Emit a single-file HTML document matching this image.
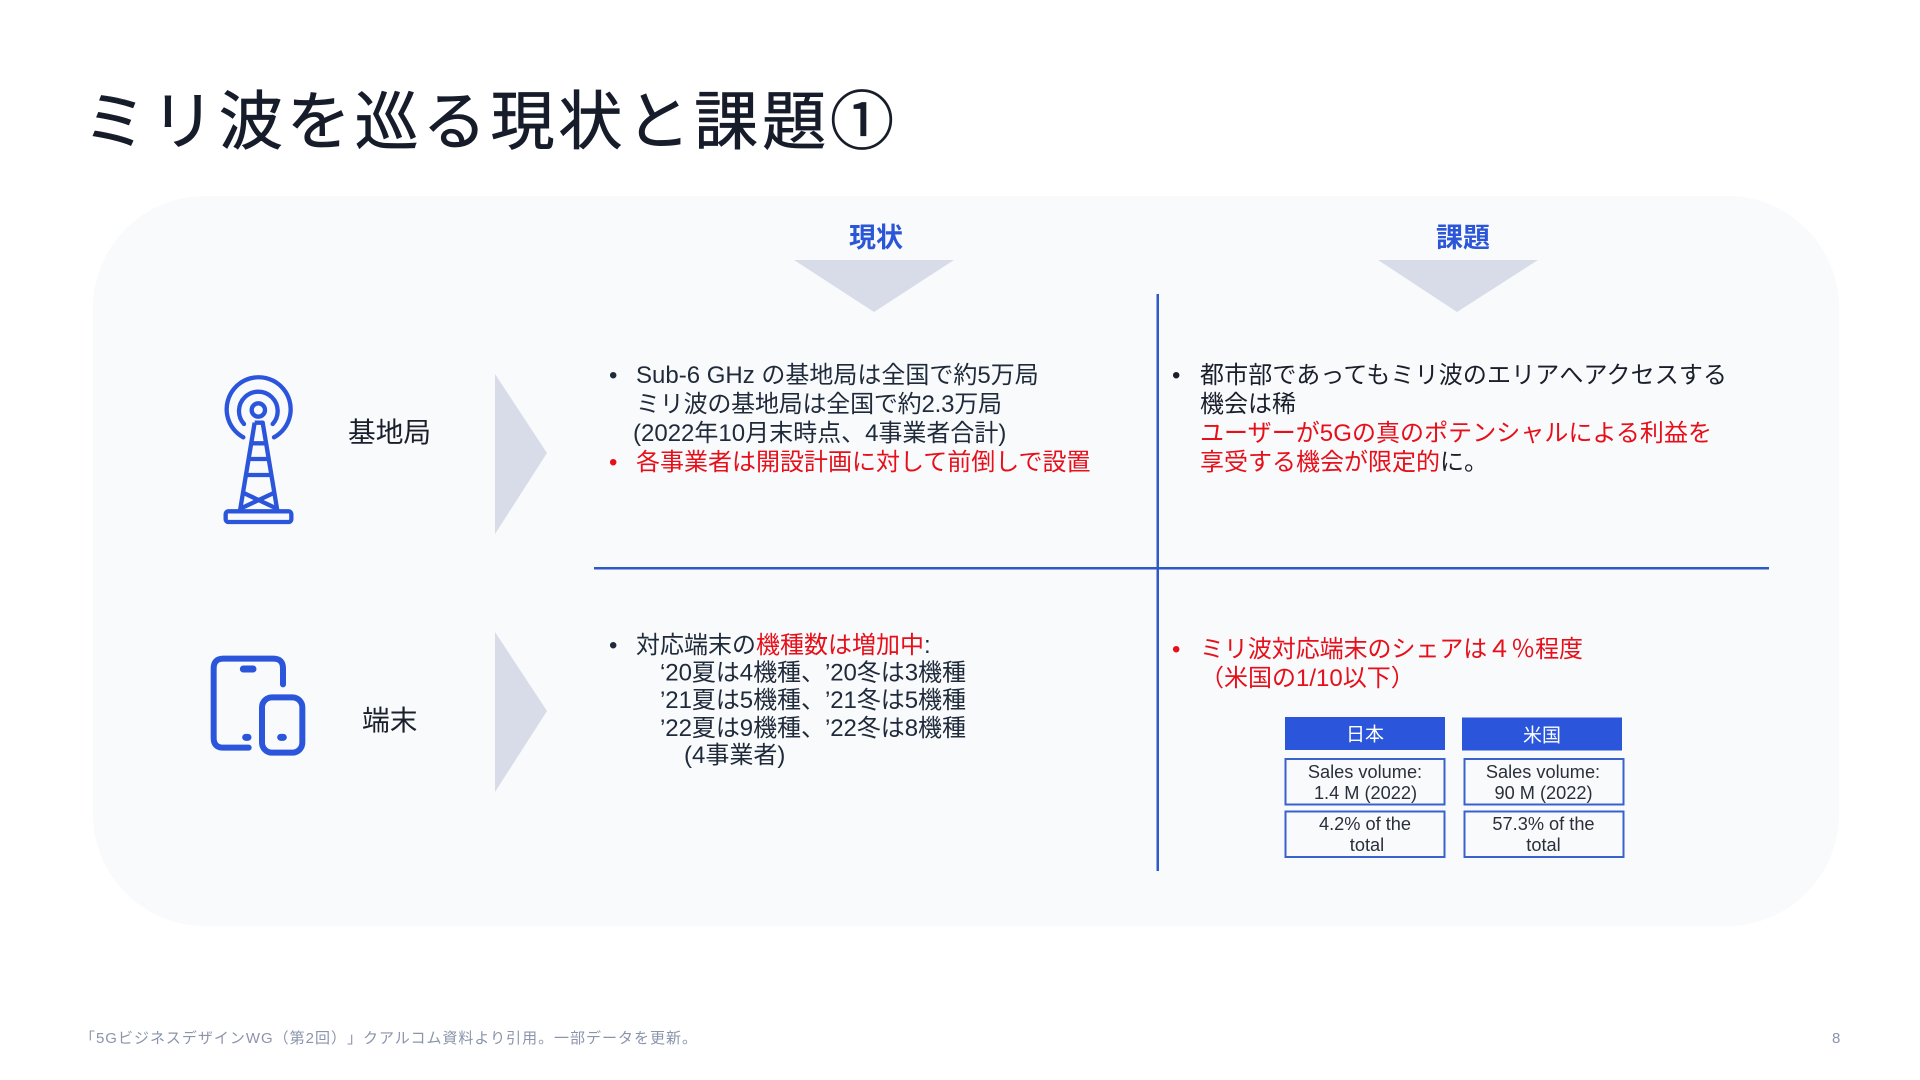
<!DOCTYPE html>
<html lang="ja">
<head>
<meta charset="utf-8">
<title>ミリ波を巡る現状と課題①</title>
<style>
html,body{margin:0;padding:0;background:#fff;width:1920px;height:1080px;overflow:hidden}
svg{display:block;position:absolute;left:0;top:0}
text{font-family:"Liberation Sans","Noto Sans CJK JP",sans-serif;white-space:pre;text-spacing-trim:space-all}
.b{font-size:24px;fill:#1f2a3a}
.r{fill:#e60f1a}
.t{font-size:18.2px;fill:#2a2f3a;text-anchor:middle}
</style>
</head>
<body>
<svg width="1920" height="1080" viewBox="0 0 1920 1080" xmlns="http://www.w3.org/2000/svg">
<rect width="1920" height="1080" fill="#fff"/>
<rect x="93" y="196" width="1746" height="730" rx="112" ry="112" fill="#f9fafc"/>

<text x="83" y="144" font-size="64" fill="#161c2a" stroke="#161c2a" stroke-width="0.7" textLength="811">ミリ波を巡る現状と課題①</text>

<text x="876" y="247" font-size="27" font-weight="700" fill="#2b56d8" text-anchor="middle">現状</text>
<text x="1463" y="247" font-size="27" font-weight="700" fill="#2b56d8" text-anchor="middle">課題</text>
<polygon points="794,260 954,260 874,312" fill="#d8dce8"/>
<polygon points="1378,260 1538,260 1457,312" fill="#d8dce8"/>
<polygon points="495,374 547,453 495,534" fill="#d8dce8"/>
<polygon points="495,632 547,711 495,792" fill="#d8dce8"/>

<g transform="translate(180,340) scale(0.33333)" fill="none" stroke="#2b56dc" stroke-width="13" stroke-linejoin="round">
  <circle cx="235" cy="210" r="20"/>
  <path stroke-linecap="round" d="M190 292 A96 96 0 1 1 282 292"/>
  <path stroke-linecap="round" d="M192 252 A58 58 0 1 1 278 252"/>
  <path d="M224 248 L248 248 L292 512 M224 248 L180 512"/>
  <path d="M214 310 H258 M206 357 H266 M198 405 H274"/>
  <path d="M189 458 L291 506 M283 458 L181 506"/>
  <rect x="137" y="514" width="197" height="32" rx="8"/>
</g>

<g transform="translate(180,620) scale(0.33333)" fill="none" stroke="#2b56dc" stroke-width="18" stroke-linecap="round" stroke-linejoin="round">
  <path d="M206 383 L130 383 Q101 383 101 354 L101 145 Q101 116 130 116 L280 116 Q309 116 309 145 L309 193"/>
  <rect x="246" y="232" width="121" height="166" rx="30"/>
  <path stroke-width="21" d="M190 147 H219 M197 352 H204 M302 352 H310"/>
</g>

<text x="348" y="442" font-size="27.7" fill="#1a1f2b">基地局</text>
<text x="362" y="730" font-size="27.7" fill="#1a1f2b">端末</text>

<rect x="1156.5" y="294" width="2.5" height="577" fill="#2f58c8"/>
<rect x="594" y="567" width="1175" height="2.5" fill="#2f58c8"/>

<text class="b" x="609" y="383">•</text>
<text class="b" x="636" y="383">Sub-6 GHz の基地局は全国で約5万局</text>
<text class="b" x="636" y="412" textLength="366">ミリ波の基地局は全国で約2.3万局</text>
<text class="b" x="633" y="441">(2022年10月末時点、4事業者合計)</text>
<text class="b r" x="609" y="470">•</text>
<text class="b r" x="636" y="470">各事業者は開設計画に対して前倒しで設置</text>

<text class="b" x="1172" y="383" style="fill:#1a1f2b">•</text>
<text class="b" x="1200" y="383" style="fill:#1a1f2b" textLength="527">都市部であってもミリ波のエリアへアクセスする</text>
<text class="b" x="1200" y="412" style="fill:#1a1f2b">機会は稀</text>
<text class="b r" x="1200" y="441" textLength="512">ユーザーが5Gの真のポテンシャルによる利益を</text>
<text class="b" x="1200" y="470"><tspan class="r" style="fill:#e60f1a">享受する機会が限定的</tspan><tspan style="fill:#1a1f2b">に。</tspan></text>

<text class="b" x="609" y="653">•</text>
<text class="b" x="636" y="653">対応端末の<tspan style="fill:#e60f1a">機種数は増加中</tspan>:</text>
<text class="b" x="660" y="680.5" textLength="306">‘20夏は4機種、’20冬は3機種</text>
<text class="b" x="660" y="708" textLength="306">’21夏は5機種、’21冬は5機種</text>
<text class="b" x="660" y="736" textLength="306">’22夏は9機種、’22冬は8機種</text>
<text class="b" x="684" y="763">(4事業者)</text>

<text class="b r" x="1172" y="657">•</text>
<text class="b r" x="1200" y="657" textLength="383">ミリ波対応端末のシェアは４％程度</text>
<text class="b r" x="1200" y="686">（米国の1/10以下）</text>

<rect x="1285" y="717" width="160" height="33" fill="#2b56dc"/>
<rect x="1462" y="717.5" width="160" height="33" fill="#2b56dc"/>
<text x="1365" y="740.5" font-size="19" fill="#fff" text-anchor="middle">日本</text>
<text x="1542" y="741.5" font-size="19" fill="#fff" text-anchor="middle">米国</text>

<g fill="none" stroke="#3a62cf" stroke-width="2">
<rect x="1285.5" y="759" width="159" height="45.5"/>
<rect x="1285.5" y="811.5" width="159" height="45.5"/>
<rect x="1464.5" y="759" width="159" height="45.5"/>
<rect x="1464.5" y="811.5" width="159" height="45.5"/>
</g>
<text class="t" x="1365" y="778">Sales volume:</text>
<text class="t" x="1365.5" y="799">1.4 M (2022)</text>
<text class="t" x="1365" y="830">4.2% of the</text>
<text class="t" x="1367" y="851">total</text>
<text class="t" x="1543" y="778">Sales volume:</text>
<text class="t" x="1543.5" y="799">90 M (2022)</text>
<text class="t" x="1543.5" y="830">57.3% of the</text>
<text class="t" x="1543.5" y="851">total</text>

<text x="80" y="1043" font-size="15" fill="#8a94ab" textLength="617">「5GビジネスデザインWG（第2回）」クアルコム資料より引用。一部データを更新。</text>
<text x="1832" y="1043" font-size="15" fill="#8a94ab">8</text>
</svg>
</body>
</html>
